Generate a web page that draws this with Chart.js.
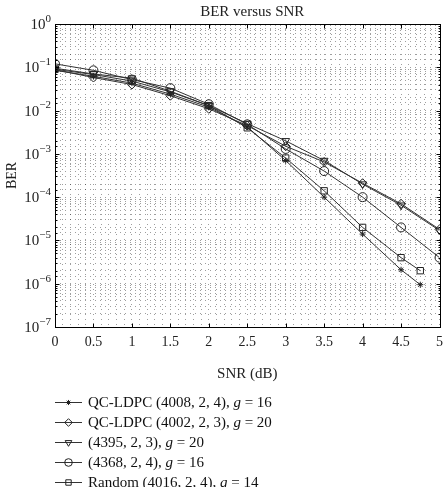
<!DOCTYPE html>
<html>
<head>
<meta charset="utf-8">
<script src="https://cdn.jsdelivr.net/npm/chart.js@4"></script>
<style>
  html, body { margin: 0; padding: 0; background: #fff; }
  canvas { display: block; }
</style>
</head>
<body>
<canvas id="berChart" width="445" height="487"></canvas>
<script>
// SNR points (dB)
var snrShort = [0, 0.5, 1, 1.5, 2, 2.5, 3, 3.5, 4, 4.5, 4.75];
var snrFull = [0, 0.5, 1, 1.5, 2, 2.5, 3, 3.5, 4, 4.5, 5];

// BER values
var berQc4008 = [0.085, 0.062, 0.043, 0.024, 0.012, 0.0042, 7e-4, 1e-4, 1.4e-5, 2.1e-6, 9.5e-7];
var berQc4002 = [0.088, 0.058, 0.040, 0.022, 0.011, 0.0045, 1.5e-3, 6.5e-4, 2.1e-4, 7e-5, 1.8e-5];
var ber4395 = [0.095, 0.070, 0.056, 0.028, 0.013, 0.0050, 2e-3, 7e-4, 2e-4, 6.5e-5, 1.7e-5];
var ber4368 = [0.120, 0.085, 0.052, 0.033, 0.014, 0.0048, 1.3e-3, 4e-4, 1e-4, 2e-5, 4e-6];
var berRandom = [0.090, 0.068, 0.048, 0.027, 0.013, 0.0040, 8e-4, 1.4e-4, 2e-5, 4e-6, 2e-6];

var seriesLabels = [
    'QC-LDPC (4008, 2, 4), g = 16',
    'QC-LDPC (4002, 2, 3), g = 20',
    '(4395, 2, 3), g = 20',
    '(4368, 2, 4), g = 16',
    'Random (4016, 2, 4), g = 14'
];

// y ticks: exponent of ten
var yTickExp = ['0', '\u22121', '\u22122', '\u22123', '\u22124', '\u22125', '\u22126', '\u22127'];
var xTickLabels = ['0', '0.5', '1', '1.5', '2', '2.5', '3', '3.5', '4', '4.5', '5'];

function pts(xs, ys) {
    return xs.map(function (x, i) { return { x: x, y: ys[i] }; });
}

var serif = "'Liberation Serif', 'DejaVu Serif', serif";

function ds(label, xs, ys, style, radius, rot) {
    return {
        label: label,
        data: pts(xs, ys),
        borderColor: '#333',
        borderWidth: 1,
        pointStyle: style,
        pointRadius: radius,
        pointRotation: rot || 0,
        pointBorderColor: '#222',
        pointBackgroundColor: style === 'star' ? '#222' : 'rgba(0,0,0,0)',
        pointBorderWidth: 1,
        tension: 0
    };
}

var datasets = [
    ds(seriesLabels[0], snrShort, berQc4008, 'star', 3),
    ds(seriesLabels[1], snrFull, berQc4002, 'rectRot', 4.5),
    ds(seriesLabels[2], snrFull, ber4395, 'triangle', 4.5, 180),
    ds(seriesLabels[3], snrFull, ber4368, 'circle', 4.5),
    ds(seriesLabels[4], snrShort, berRandom, 'rect', 4.5)
];

// box, inner ticks, title, y tick labels with superscripts, line+marker legend
var extras = {
    id: 'extras',
    afterDraw: function (chart) {
        var ctx = chart.ctx;
        var a = chart.chartArea;
        var L = Math.round(a.left) + 0.5, R = Math.round(a.right) + 0.5;
        var T = Math.round(a.top) + 0.5, B = Math.round(a.bottom) + 0.5;
        ctx.save();
        ctx.strokeStyle = '#000';
        ctx.lineWidth = 1;
        ctx.strokeRect(L, T, R - L, B - T);

        // inner tick marks
        var xs = chart.scales.x, ys = chart.scales.y;
        ctx.beginPath();
        xTickLabels.forEach(function (t) {
            var px = Math.round(xs.getPixelForValue(parseFloat(t))) + 0.5;
            ctx.moveTo(px, B); ctx.lineTo(px, B - 4);
            ctx.moveTo(px, T); ctx.lineTo(px, T + 4);
        });
        ys.ticks.forEach(function (t) {
            var py = Math.round(ys.getPixelForValue(t.value)) + 0.5;
            var e = Math.log10(t.value);
            var len = Math.abs(e - Math.round(e)) < 1e-6 ? 4 : 2;
            ctx.moveTo(L, py); ctx.lineTo(L + len, py);
            ctx.moveTo(R, py); ctx.lineTo(R - len, py);
        });
        ctx.stroke();

        // title centred over the plot
        ctx.fillStyle = '#222';
        ctx.textAlign = 'center';
        ctx.textBaseline = 'middle';
        ctx.font = '15px ' + serif;
        ctx.fillText('BER versus SNR', (a.left + a.right) / 2 + 5, 12);

        // y tick labels 10^n
        ctx.textAlign = 'left';
        yTickExp.forEach(function (ex, i) {
            var py = ys.getPixelForValue(Math.pow(10, -i));
            ctx.font = '11px ' + serif;
            var we = ctx.measureText(ex).width;
            ctx.font = '15px ' + serif;
            var wb = ctx.measureText('10').width;
            var xr = a.left - 4;
            ctx.fillText('10', xr - we - wb, py + 1);
            ctx.font = '11px ' + serif;
            ctx.fillText(ex, xr - we, py - 5);
        });

        var x0 = 55, y0 = 402, step = 20;
        chart.data.datasets.forEach(function (d, i) {
            var y = y0 + i * step;
            ctx.strokeStyle = '#333';
            ctx.lineWidth = 1;
            ctx.beginPath();
            ctx.moveTo(x0, y + 0.5);
            ctx.lineTo(x0 + 27, y + 0.5);
            ctx.stroke();
            ctx.strokeStyle = '#222';
            ctx.fillStyle = d.pointBackgroundColor;
            Chart.helpers.drawPoint(ctx, {
                pointStyle: d.pointStyle,
                radius: d.pointRadius * 0.85,
                rotation: d.pointRotation,
                borderWidth: 1
            }, x0 + 13.5, y + 0.5);

            // label with italic g
            var parts = d.label.split('g =');
            var tx = x0 + 33;
            ctx.fillStyle = '#111';
            ctx.textAlign = 'left';
            ctx.textBaseline = 'middle';
            ctx.font = '15px ' + serif;
            ctx.fillText(parts[0], tx, y + 1);
            tx += ctx.measureText(parts[0]).width;
            ctx.font = 'italic 15px ' + serif;
            ctx.fillText('g', tx, y + 1);
            tx += ctx.measureText('g').width;
            ctx.font = '15px ' + serif;
            ctx.fillText(' =' + parts[1], tx, y + 1);
        });
        ctx.restore();
    }
};

var gridCol = 'rgba(0,0,0,0.38)';

var ctx = document.getElementById('berChart').getContext('2d');
var berChart = new Chart(ctx, {
    type: 'line',
    data: { datasets: datasets },
    plugins: [extras],
    options: {
        responsive: false,
        animation: false,
        layout: { padding: { left: 0, right: 2, top: 24, bottom: 100 } },
        plugins: {
            legend: { display: false },
            tooltip: { enabled: false },
            title: { display: false }
        },
        scales: {
            x: {
                type: 'linear',
                min: 0,
                max: 5,
                border: { display: false, dash: [1, 4] },
                grid: { color: gridCol, drawTicks: false },
                ticks: {
                    stepSize: 0.1,
                    autoSkip: false,
                    maxRotation: 0,
                    padding: 7,
                    color: '#222',
                    font: { family: serif, size: 14 },
                    callback: function (v) {
                        var k = Math.round(v * 10);
                        if (k % 5 !== 0) return '';
                        return xTickLabels[k / 5];
                    }
                },
                title: {
                    display: true,
                    text: 'SNR (dB)',
                    color: '#222',
                    font: { family: serif, size: 15 },
                    padding: { top: 8 }
                },
                afterFit: function (s) {
                    s.height = 60;
                    s.paddingLeft = 0;
                    s.paddingRight = 0;
                }
            },
            y: {
                type: 'logarithmic',
                min: 1e-7,
                max: 1,
                border: { display: false, dash: [1, 4] },
                grid: { color: gridCol, drawTicks: false },
                ticks: {
                    autoSkip: false,
                    color: 'rgba(0,0,0,0)',
                    font: { family: serif, size: 13 },
                    callback: function () { return ''; }
                },
                title: {
                    display: true,
                    text: 'BER',
                    color: '#222',
                    font: { family: serif, size: 14 },
                    padding: { bottom: 0 }
                },
                afterFit: function (s) {
                    s.width = 55;
                    s.paddingTop = 0;
                    s.paddingBottom = 0;
                }
            }
        }
    }
});
</script>
</body>
</html>
